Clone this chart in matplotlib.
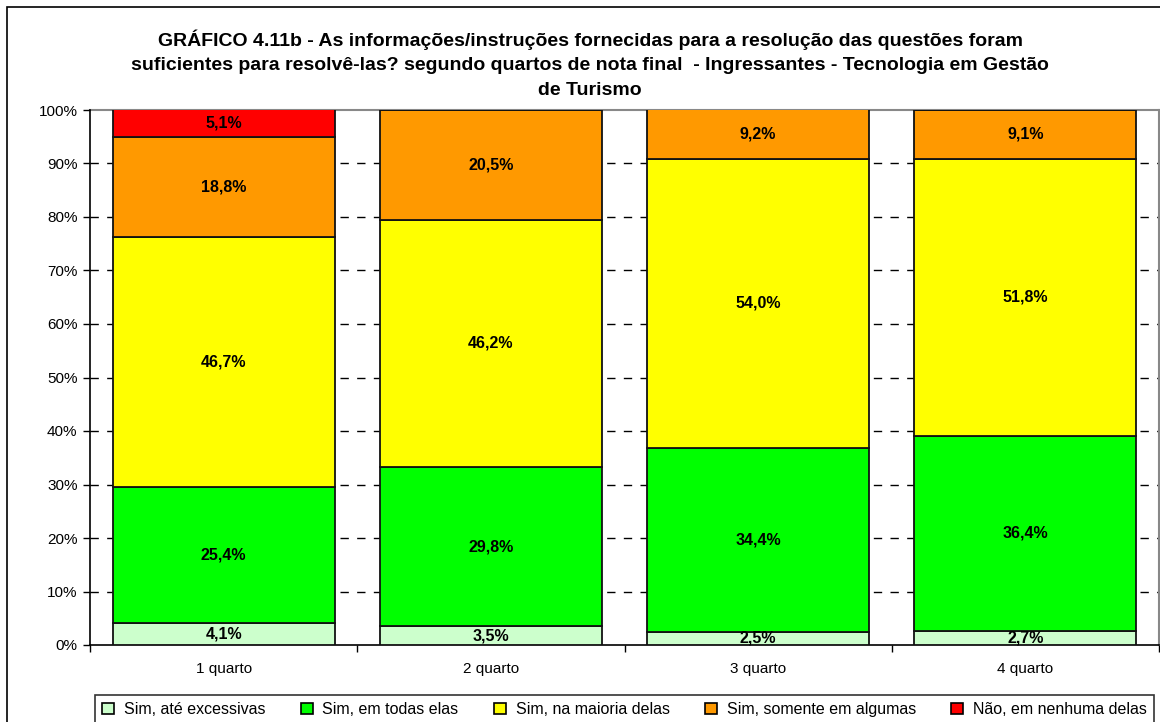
import matplotlib
matplotlib.use("Agg")
import matplotlib.pyplot as plt
from matplotlib.patches import Rectangle, Patch
import numpy as np

plt.rcParams['font.family'] = ['Liberation Sans', 'DejaVu Sans']

categories = ["1 quarto", "2 quarto", "3 quarto", "4 quarto"]
series_names = ["Sim, até excessivas", "Sim, em todas elas", "Sim, na maioria delas",
                "Sim, somente em algumas", "Não, em nenhuma delas"]
ate_excessivas = [4.1, 3.5, 2.5, 2.7]
em_todas = [25.4, 29.8, 34.4, 36.4]
na_maioria = [46.7, 46.2, 54.0, 51.8]
somente_algumas = [18.8, 20.5, 9.2, 9.1]
nenhuma = [5.1, 0.0, 0.0, 0.0]
colors = ["#CCFFCC", "#00FF00", "#FFFF00", "#FF9900", "#FF0000"]
yticks = [0, 10, 20, 30, 40, 50, 60, 70, 80, 90, 100]
title = ("GRÁFICO 4.11b - As informações/instruções fornecidas para a resolução das questões foram\n"
         "suficientes para resolvê-las? segundo quartos de nota final  - Ingressantes - Tecnologia em Gestão\n"
         "de Turismo")

W, H = 1160, 722
fig = plt.figure(figsize=(W / 100, H / 100), dpi=100)

# outer frame of the chart
fig.patches.append(Rectangle((7 / W, -0.1), 1.2, 1 - 7 / H + 0.1, transform=fig.transFigure,
                             fill=False, edgecolor="black", linewidth=1.2))

ax = fig.add_axes([90 / W, (H - 645) / H, (1159 - 90) / W, (645 - 110) / H])

series = [ate_excessivas, em_todas, na_maioria, somente_algumas, nenhuma]
x = np.arange(len(categories))
bottom = np.zeros(len(categories))
for name, vals, col in zip(series_names, series, colors):
    vals = np.array(vals)
    ax.bar(x, vals, bottom=bottom, width=0.83, color=col, edgecolor="#111111",
           linewidth=1.3, zorder=3, label=name)
    for xi, b, v in zip(x, bottom, vals):
        if v > 0:
            top = min(b + v, 100)
            ax.text(xi, (b + top) / 2, f"{v:.1f}%".replace(".", ","),
                    ha="center", va="center", fontsize=11.5, fontweight="bold", zorder=5)
    bottom += vals

ax.set_xlim(-0.5, len(categories) - 0.5)
ax.set_ylim(0, 100)
ax.set_yticks(yticks)
ax.set_yticklabels([f"{t}%" for t in yticks], fontsize=11)
ax.set_xticks(x)
ax.set_xticklabels(categories, fontsize=11)
ax.tick_params(axis="x", which="major", length=0, pad=12)
ax.set_xticks(np.arange(len(categories) + 1) - 0.5, minor=True)
ax.tick_params(axis="x", which="minor", length=5, width=1, direction="out")
ax.tick_params(axis="y", length=5, width=1, direction="out", pad=4)

for t in yticks[1:-1]:
    ax.axhline(t, color="black", linestyle=(0, (6, 6)), linewidth=1, zorder=1)

ax.spines["left"].set_color("black")
ax.spines["bottom"].set_color("black")
ax.spines["left"].set_linewidth(1.2)
ax.spines["bottom"].set_linewidth(1.2)
ax.spines["top"].set_color("#888888")
ax.spines["right"].set_color("#888888")
ax.spines["top"].set_linewidth(1.5)
ax.spines["right"].set_linewidth(1.5)
ax.spines["top"].set_zorder(0.5)

fig.text(590 / W, 1 - 29 / H, title, ha="center", va="top", fontsize=14,
         fontweight="bold", linespacing=1.58)

handles = [Patch(facecolor=c, edgecolor="black", linewidth=1.2) for c in colors]
leg = fig.legend(handles, series_names, loc="upper left", ncol=5,
                 bbox_to_anchor=(95 / W, 1 - 695 / H, (1154 - 95) / W, 0),
                 mode="expand", fontsize=11.5, frameon=True, fancybox=False,
                 edgecolor="black", handlelength=0.75, handleheight=0.75,
                 handletextpad=0.6, borderpad=0.45, borderaxespad=0)
leg.get_frame().set_linewidth(1.2)

fig.savefig("out.png", dpi=100)
